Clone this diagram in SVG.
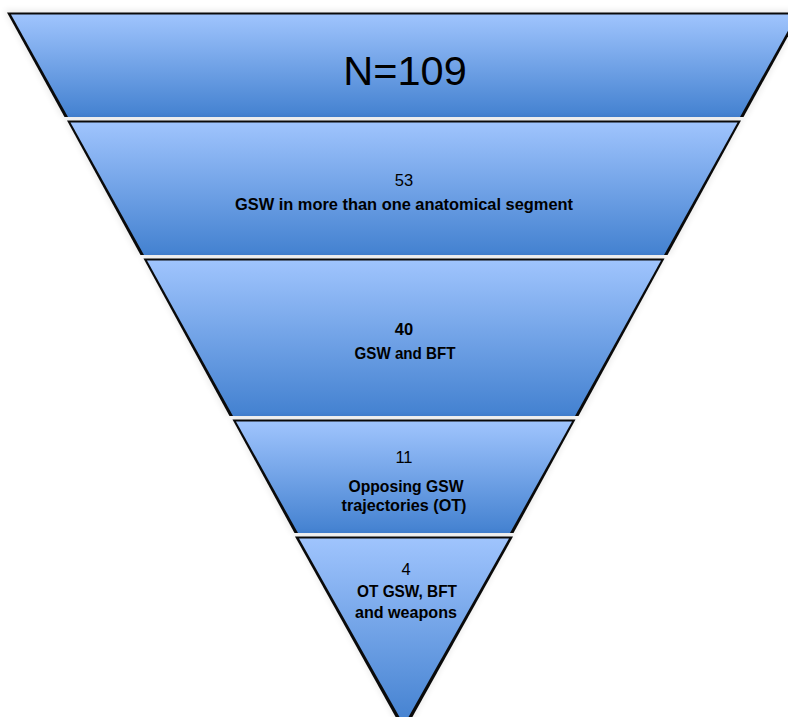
<svg xmlns="http://www.w3.org/2000/svg" width="788" height="717" viewBox="0 0 788 717">
  <defs>
    <linearGradient id="g" x1="0" y1="0" x2="0" y2="1">
      <stop offset="0" stop-color="#9fc4fd"/>
      <stop offset="1" stop-color="#4381d0"/>
    </linearGradient>
    <filter id="halo" x="-10%" y="-10%" width="120%" height="120%">
      <feGaussianBlur stdDeviation="3"/>
    </filter>
  </defs>
  <style>
    .edge { fill: #0a0a0a; }
    .halo { fill: #000; opacity: 0.08; filter: url(#halo); }
    .body { fill: url(#g); }
    .t { font-family: "Liberation Sans", Arial, sans-serif; font-size: 16.5px; fill: #000; text-anchor: middle; }
    .b { font-weight: bold; }
  </style>
  <rect width="788" height="717" fill="#fff"/>

  <g id="seg1">
    <polygon class="halo" points="4,10 804,10 746,117 62,117"/>
    <polygon class="edge" points="7,12.5 801,12.5 743.5,117 64.5,117"/>
    <polygon class="body" points="11,14.5 797,14.5 740,117 68,117"/>
    <text class="t" x="405" y="85" style="font-size:41.5px">N=109</text>
  </g>

  <g id="seg2">
    <polygon class="halo" points="64,118 744,118 670,255 138,255"/>
    <polygon class="edge" points="67,120.5 741,120.5 667.5,255 140.5,255"/>
    <polygon class="body" points="70.5,122.5 737.5,122.5 664,255 144,255"/>
    <text class="t" x="404" y="186">53</text>
    <text class="t b" x="404" y="210" textLength="338" lengthAdjust="spacingAndGlyphs">GSW in more than one anatomical segment</text>
  </g>

  <g id="seg3">
    <polygon class="halo" points="141,256 667,256 581,416 227,416"/>
    <polygon class="edge" points="143.5,258.5 664.5,258.5 578.5,416 229.5,416"/>
    <polygon class="body" points="147,260.5 661,260.5 575,416 233,416"/>
    <text class="t b" x="404" y="335">40</text>
    <text class="t b" x="405" y="359" textLength="101" lengthAdjust="spacingAndGlyphs">GSW and BFT</text>
  </g>

  <g id="seg4">
    <polygon class="halo" points="230,417 578,417 516,533 292,533"/>
    <polygon class="edge" points="232.5,419.5 575.5,419.5 513.5,533 294.5,533"/>
    <polygon class="body" points="236,421.5 572,421.5 510,533 298,533"/>
    <text class="t" x="404" y="463">11</text>
    <text class="t b" x="406" y="492" textLength="115" lengthAdjust="spacingAndGlyphs">Opposing GSW</text>
    <text class="t b" x="404" y="511" textLength="125" lengthAdjust="spacingAndGlyphs">trajectories (OT)</text>
  </g>

  <g id="seg5">
    <polygon class="halo" points="293,534 515,534 404,735"/>
    <polygon class="edge" points="295,536.5 513,536.5 404,732"/>
    <polygon class="body" points="299,538.5 509,538.5 404,725"/>
    <text class="t" x="406" y="575">4</text>
    <text class="t b" x="407" y="597" textLength="100" lengthAdjust="spacingAndGlyphs">OT GSW, BFT</text>
    <text class="t b" x="406" y="618" textLength="102" lengthAdjust="spacingAndGlyphs">and weapons</text>
  </g>
</svg>
